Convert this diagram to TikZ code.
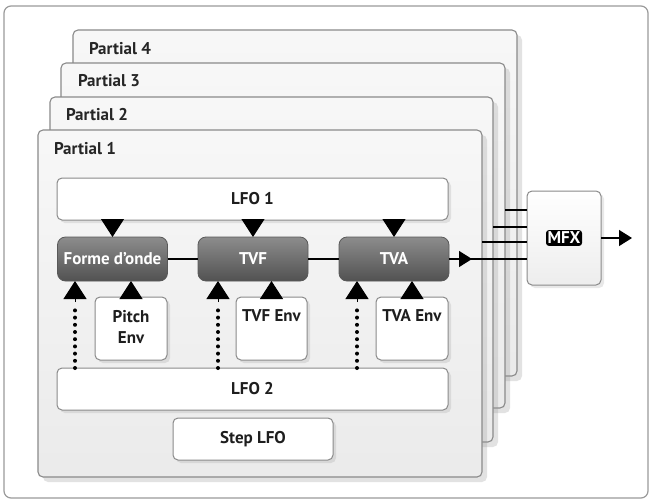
\documentclass[tikz,border=0pt]{standalone}
\usepackage{fontspec}
\setmainfont{PT Sans}
\usetikzlibrary{arrows.meta,shadows,calc}
\definecolor{frameC}{HTML}{9A9A9A}
\definecolor{edgeC}{HTML}{8A8A8A}
\definecolor{txtC}{HTML}{1E1E1E}
\begin{document}
\begin{tikzpicture}[x=1pt,y=-1pt,
  font=\fontsize{17}{21}\selectfont\bfseries,
  every node/.style={inner sep=0pt,outer sep=0pt,text=txtC},
  frame/.style={draw=frameC,line width=1.2pt,rounded corners=7pt,fill=white},
  partial/.style={draw=edgeC,line width=1.1pt,rounded corners=5pt,
    top color=gray!6,bottom color=gray!16,
    drop shadow={shadow xshift=5pt,shadow yshift=-5pt,opacity=.28,fill=gray!80}},
  plabel/.style={anchor=base west,text=black!85},
  whitebox/.style={draw=edgeC,line width=1pt,rounded corners=5pt,fill=white,
    drop shadow={shadow xshift=3pt,shadow yshift=-3pt,opacity=.18,fill=gray}},
  darkbox/.style={draw=black!65,line width=.8pt,rounded corners=8pt,
    top color=black!45,bottom color=black!68,text=white,
    minimum width=110pt,minimum height=44pt},
  wire/.style={draw=black,line width=1.3pt},
  tri/.style={draw=black,line width=1pt,-{Triangle[width=23pt,length=18pt]}},
  dots/.style={draw=black,line width=4pt,line cap=round,dash pattern=on 0pt off 7.2pt}
]
\useasboundingbox (0,0) rectangle (651,501);
% outer frame
\node[frame,minimum width=644pt,minimum height=492pt] (frame) at (326,252) {};
% partial stack
\node[partial,minimum width=444pt,minimum height=346pt] (p4) at (295,203) {};
\node[plabel] (l4) at (89,54) {Partial 4};
\node[partial,minimum width=444pt,minimum height=345pt] (p3) at (283,235.5) {};
\node[plabel] (l3) at (78,86) {Partial 3};
\node[partial,minimum width=443pt,minimum height=345pt] (p2) at (271.5,269.5) {};
\node[plabel] (l2) at (66,120) {Partial 2};
\node[partial,minimum width=444pt,minimum height=347pt] (p1) at (260,303.5) {};
\node[plabel] (l1) at (54,154) {Partial 1};
% LFO boxes
\node[whitebox,minimum width=391pt,minimum height=42pt] (lfo1) at (252.5,199) {LFO 1};
\node[whitebox,minimum width=391pt,minimum height=42pt] (lfo2) at (252.5,389) {LFO 2};
\node[whitebox,minimum width=160pt,minimum height=42pt] (slfo) at (253,439) {Step LFO};
% main chain
\node[darkbox] (wave) at (112.5,259) {Forme d’onde};
\node[darkbox] (tvf) at (253,259) {TVF};
\node[darkbox] (tva) at (394,259) {TVA};
% envelopes
\node[whitebox,minimum width=72pt,minimum height=63pt] (penv) at (131,328.5) {};
\node[whitebox,minimum width=71pt,minimum height=63pt] (fenv) at (271.5,328.5) {};
\node[whitebox,minimum width=72pt,minimum height=63pt] (aenv) at (412,328.5) {};
\node[anchor=north,align=center] (pt) at ($(penv.north)+(0,13)$) {Pitch\\Env};
\node[anchor=north] (ft) at ($(fenv.north)+(0,13)$) {TVF Env};
\node[anchor=north] (at) at ($(aenv.north)+(0,13)$) {TVA Env};
% MFX
\node[whitebox,top color=white,bottom color=gray!14,minimum width=74pt,minimum height=94pt] (mfx) at (564,238) {};
\node[fill=black,text=white,rounded corners=3pt,inner xsep=1.5pt,inner ysep=2pt] (mfxt) at (mfx.center) {MFX};
% chain wires
\draw[wire] (wave.east) -- (tvf.west);
\draw[wire] (tvf.east) -- (tva.west);
\draw[wire] (tva.east) -- (mfx.west |- tva.east);
\draw[draw=black,line width=1.3pt,-{Triangle[width=16pt,length=13pt]}] (tva.east) -- ($(tva.east)+(23,0)$);
\draw[wire] (p3.east |- 0,210) -- (mfx.west |- 0,210);
\draw[wire] (p2.east |- 0,227) -- (mfx.west |- 0,227);
\draw[wire] (p1.east |- 0,242) -- (mfx.west |- 0,242);
\draw[draw=black,line width=1.3pt,-{Triangle[width=16pt,length=13pt]}] (mfx.east) -- ($(mfx.east)+(31,0)$);
% LFO1 down arrows
\draw[tri] (lfo1.south -| wave.north) -- (wave.north);
\draw[tri] (lfo1.south -| tvf.north) -- (tvf.north);
\draw[tri] (lfo1.south -| tva.north) -- (tva.north);
% envelope up arrows
\draw[tri] (penv.north) -- (wave.south -| penv.north);
\draw[tri] (fenv.north) -- (tvf.south -| fenv.north);
\draw[tri] (aenv.north) -- (tva.south -| aenv.north);
% LFO2 dotted connections
\coordinate (d1) at (75,302);
\coordinate (d2) at (218,302);
\coordinate (d3) at (357,302);
\draw[dots] (lfo2.north -| d1) -- ($(d1)+(0,6)$);
\draw[dots] (lfo2.north -| d2) -- ($(d2)+(0,6)$);
\draw[dots] (lfo2.north -| d3) -- ($(d3)+(0,6)$);
\draw[tri] (d1) -- (wave.south -| d1);
\draw[tri] (d2) -- (tvf.south -| d2);
\draw[tri] (d3) -- (tva.south -| d3);
\end{tikzpicture}
\end{document}
